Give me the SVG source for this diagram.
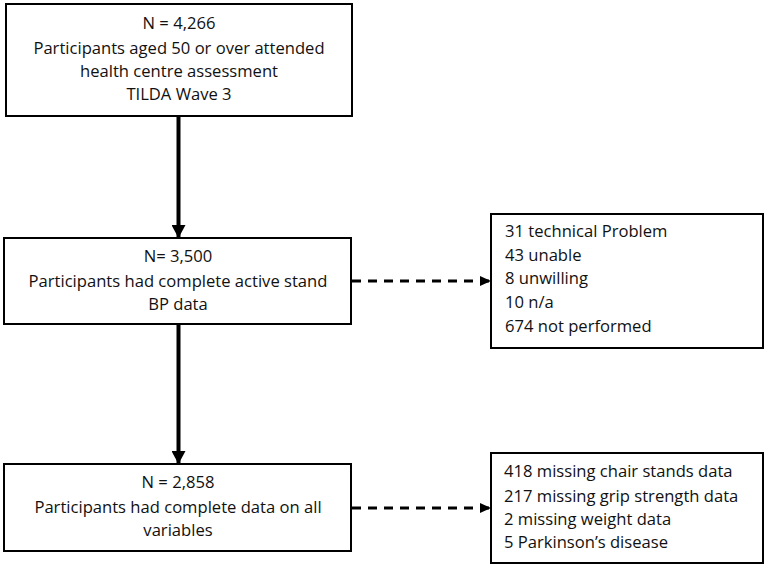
<svg xmlns="http://www.w3.org/2000/svg" width="768" height="569" viewBox="0 0 768 569">
<defs>
<style>
.box{fill:#fff;stroke:#000;stroke-width:2}
.t{font-family:"Open Sans","Liberation Sans",sans-serif;font-size:16.6px;fill:#111}
.c{text-anchor:middle}
.solid{stroke:#000;stroke-width:4;fill:none}
.dash{stroke:#000;stroke-width:3;fill:none;stroke-dasharray:9 7}
</style>
<marker id="ah" markerUnits="userSpaceOnUse" markerWidth="14" markerHeight="14" refX="13" refY="7" orient="auto">
<path d="M0,0 L13,7 L0,14 Z" fill="#000"/>
</marker>
<marker id="ahs" markerUnits="userSpaceOnUse" markerWidth="11" markerHeight="10" refX="11" refY="5" orient="auto">
<path d="M0,0 L11,5 L0,10 Z" fill="#000"/>
</marker>
</defs>
<rect width="768" height="569" fill="#fff"/>
<g id="connectors">
<line class="solid" x1="178.5" y1="116" x2="178.5" y2="238" marker-end="url(#ah)"/>
<line class="solid" x1="178.5" y1="324" x2="178.5" y2="464" marker-end="url(#ah)"/>
<line class="dash" x1="352" y1="281" x2="491" y2="281" marker-end="url(#ahs)"/>
<line class="dash" x1="352" y1="508" x2="491" y2="508" marker-end="url(#ahs)"/>
</g>
<g id="n1">
<rect class="box" x="6" y="4" width="346" height="112"/>
<text class="t c" x="179" y="29">N = 4,266</text>
<text class="t c" x="179" y="54">Participants aged 50 or over attended</text>
<text class="t c" x="179" y="77">health centre assessment</text>
<text class="t c" x="179" y="100">TILDA Wave 3</text>
</g>
<g id="n2">
<rect class="box" x="4" y="238" width="347" height="86"/>
<text class="t c" x="178" y="262">N= 3,500</text>
<text class="t c" x="178" y="287">Participants had complete active stand</text>
<text class="t c" x="178" y="310">BP data</text>
</g>
<g id="n3">
<rect class="box" x="491" y="214" width="272" height="134"/>
<text class="t" x="505" y="237">31 technical Problem</text>
<text class="t" x="505" y="261">43 unable</text>
<text class="t" x="505" y="284">8 unwilling</text>
<text class="t" x="505" y="308">10 n/a</text>
<text class="t" x="505" y="332">674 not performed</text>
</g>
<g id="n4">
<rect class="box" x="4" y="464" width="347" height="87"/>
<text class="t c" x="178" y="488">N = 2,858</text>
<text class="t c" x="178" y="513">Participants had complete data on all</text>
<text class="t c" x="178" y="536">variables</text>
</g>
<g id="n5">
<rect class="box" x="491" y="453" width="272" height="110"/>
<text class="t" x="504" y="477">418 missing chair stands data</text>
<text class="t" x="504" y="502">217 missing grip strength data</text>
<text class="t" x="504" y="525">2 missing weight data</text>
<text class="t" x="504" y="548">5 Parkinson’s disease</text>
</g>
</svg>
